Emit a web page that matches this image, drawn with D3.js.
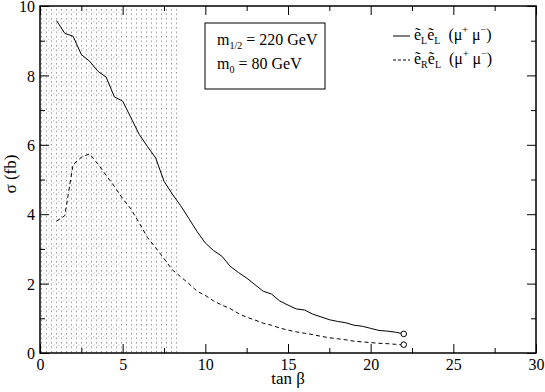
<!DOCTYPE html>
<html>
<head>
<meta charset="utf-8">
<script src="https://cdnjs.cloudflare.com/ajax/libs/d3/7.8.5/d3.min.js"></script>
<style>
  body { margin: 0; background: #fff; }
</style>
</head>
<body>
<svg id="chart"></svg>
<script>
var width = 545, height = 392

// tan beta values (shared by both curves)
var tanBeta = [1, 1.5, 2, 2.5, 3, 3.5, 4, 4.5, 5, 5.5, 6, 6.5, 7, 7.5, 8, 8.5, 9, 9.5, 10,
  10.5, 11, 11.5, 12, 12.5, 13, 13.5, 14, 14.5, 15, 15.5, 16, 16.5, 17, 17.5, 18, 18.5,
  19, 19.5, 20, 20.5, 21, 21.5, 22]
// sigma (fb) for e~L e~L (mu+ mu-)
var sigmaLL = [9.58, 9.21, 9.13, 8.60, 8.41, 8.12, 7.95, 7.38, 7.26, 6.78, 6.30, 5.95, 5.62,
  4.95, 4.58, 4.25, 3.88, 3.50, 3.17, 2.95, 2.79, 2.50, 2.32, 2.16, 1.97, 1.78, 1.70, 1.50,
  1.38, 1.27, 1.24, 1.12, 1.04, 0.96, 0.91, 0.87, 0.80, 0.77, 0.71, 0.65, 0.63, 0.60, 0.55]
// sigma (fb) for e~R e~L (mu+ mu-)
var sigmaRL = [3.80, 3.96, 5.43, 5.64, 5.74, 5.45, 5.12, 4.80, 4.45, 4.15, 3.75, 3.33, 3.03,
  2.72, 2.40, 2.20, 2.00, 1.78, 1.66, 1.50, 1.38, 1.28, 1.14, 1.03, 0.95, 0.86, 0.80, 0.72,
  0.66, 0.61, 0.57, 0.53, 0.48, 0.44, 0.41, 0.38, 0.34, 0.32, 0.30, 0.28, 0.27, 0.25, 0.24]
// excluded regions on tan beta (dotted / extra hatched)
var excluded = [0, 8.5]
var excludedInner = [0, 5]

var xTicks = [0, 5, 10, 15, 20, 25, 30]
var yTicks = [0, 2, 4, 6, 8, 10]

var serif = 'Liberation Serif'
var margin = {left: 40, right: 9, top: 6, bottom: 39}
var svg = d3.select('#chart').attr('width', width).attr('height', height)

var x = d3.scaleLinear().domain([0, 30]).range([margin.left, width - margin.right])
var y = d3.scaleLinear().domain([0, 10]).range([height - margin.bottom, margin.top])

var defs = svg.append('defs')
// dotted columns
var pat = defs.append('pattern')
    .attr('id', 'dots')
    .attr('patternUnits', 'userSpaceOnUse')
    .attr('width', 5).attr('height', 4.5)
pat.append('rect').attr('x', 1).attr('y', 0).attr('width', 1).attr('height', 1.5).attr('fill', '#999')
// faint slashes
var pat2 = defs.append('pattern')
    .attr('id', 'slash')
    .attr('patternUnits', 'userSpaceOnUse')
    .attr('width', 5).attr('height', 9)
pat2.append('line').attr('x1', 3).attr('y1', 4).attr('x2', 4.5).attr('y2', 2.5)
    .attr('stroke', '#c4c4c4').attr('stroke-width', 0.8)

svg.append('rect')
    .attr('x', x(excluded[0]))
    .attr('y', y(10))
    .attr('width', x(excluded[1]) - x(excluded[0]))
    .attr('height', y(0) - y(10))
    .attr('fill', 'url(#dots)')
svg.append('rect')
    .attr('x', x(excludedInner[0]))
    .attr('y', y(10))
    .attr('width', x(excludedInner[1]) - x(excludedInner[0]))
    .attr('height', y(0) - y(10))
    .attr('fill', 'url(#slash)')

// axes, ticks inward on all four sides
var bottom = d3.axisBottom(x).tickValues(xTicks).tickSize(-9).tickPadding(6).tickFormat(d3.format('d'))
var bottomMinor = d3.axisBottom(x).tickValues(d3.range(2.5, 30, 5)).tickSize(-5).tickFormat('')
var left = d3.axisLeft(y).tickValues(yTicks).tickSize(-9).tickPadding(5).tickFormat(d3.format('d'))
var leftMinor = d3.axisLeft(y).tickValues(d3.range(1, 10, 2)).tickSize(-5).tickFormat('')

function drawAxis(axis, tr) {
  var g = svg.append('g').attr('transform', tr).call(axis)
  g.select('.domain').remove()
  g.selectAll('line').attr('stroke', '#000').attr('stroke-width', 1)
  g.selectAll('text').style('font-family', serif).style('font-size', '16px').attr('fill', '#000')
  return g
}
drawAxis(bottom, 'translate(0,' + y(0) + ')')
drawAxis(bottomMinor, 'translate(0,' + y(0) + ')')
drawAxis(left, 'translate(' + x(0) + ',0)').selectAll('text').attr('dy', '0.36em')
drawAxis(leftMinor, 'translate(' + x(0) + ',0)')
drawAxis(d3.axisTop(x).tickValues(xTicks).tickSize(-9).tickFormat(''), 'translate(0,' + y(10) + ')')
drawAxis(d3.axisTop(x).tickValues(d3.range(2.5, 30, 5)).tickSize(-5).tickFormat(''), 'translate(0,' + y(10) + ')')
drawAxis(d3.axisRight(y).tickValues(yTicks).tickSize(-9).tickFormat(''), 'translate(' + x(30) + ',0)')
drawAxis(d3.axisRight(y).tickValues(d3.range(1, 10, 2)).tickSize(-5).tickFormat(''), 'translate(' + x(30) + ',0)')

svg.append('rect')
    .attr('x', x(0)).attr('y', y(10))
    .attr('width', x(30) - x(0)).attr('height', y(0) - y(10))
    .attr('fill', 'none').attr('stroke', '#000').attr('stroke-width', 1.5)

// curves
var line = d3.line().x((d) => x(d[0])).y((d) => y(d[1]))
var series = [
  {vals: sigmaLL, dash: null},
  {vals: sigmaRL, dash: '4,3'}
]
series.forEach(function (s) {
  var pts = tanBeta.map((t, i) => [t, s.vals[i]])
  svg.append('path')
      .datum(pts)
      .attr('d', line)
      .attr('fill', 'none')
      .attr('stroke', '#000')
      .attr('stroke-width', 1)
      .attr('stroke-dasharray', s.dash)
  var last = pts[pts.length - 1]
  svg.append('circle')
      .attr('cx', x(last[0])).attr('cy', y(last[1])).attr('r', 2.8)
      .attr('fill', '#fff').attr('stroke', '#000').attr('stroke-width', 1)
})

function label(sel, size) {
  return sel.style('font-family', serif).style('font-size', size + 'px').attr('fill', '#000')
}

// axis titles
label(svg.append('text'), 17)
    .attr('x', x(15)).attr('y', 384)
    .attr('text-anchor', 'middle')
    .text('tan β')
label(svg.append('text'), 17)
    .attr('transform', 'translate(16,' + 174 + ') rotate(-90)')
    .attr('text-anchor', 'middle')
    .text('σ  (fb)')

// parameter box
svg.append('rect')
    .attr('x', 205).attr('y', 23).attr('width', 120).attr('height', 66)
    .attr('fill', '#fff').attr('stroke', '#000').attr('stroke-width', 1)
var t1 = label(svg.append('text'), 16).attr('x', 217).attr('y', 45)
t1.append('tspan').text('m')
t1.append('tspan').style('font-size', '10px').attr('dy', 4).text('1/2')
t1.append('tspan').attr('dy', -4).text(' = 220 GeV')
var t2 = label(svg.append('text'), 16).attr('x', 217).attr('y', 69)
t2.append('tspan').text('m')
t2.append('tspan').style('font-size', '10px').attr('dy', 4).text('0')
t2.append('tspan').attr('dy', -4).text(' = 80 GeV')

// legend
var legend = [
  {sub1: 'L', sub2: 'L', dash: null},
  {sub1: 'R', sub2: 'L', dash: '3,2'}
]
legend.forEach(function (d, i) {
  var ly = 36 + i * 24
  svg.append('line')
      .attr('x1', 393).attr('x2', 410).attr('y1', ly).attr('y2', ly)
      .attr('stroke', '#000').attr('stroke-width', 1).attr('stroke-dasharray', d.dash)
  var t = label(svg.append('text'), 16).attr('x', 414).attr('y', ly + 4)
  t.append('tspan').text('e\u0303')
  t.append('tspan').style('font-size', '10px').attr('dy', 4).text(d.sub1)
  t.append('tspan').attr('dy', -4).text('e\u0303')
  t.append('tspan').style('font-size', '10px').attr('dy', 4).text(d.sub2)
  t.append('tspan').attr('dy', -4).text('\u00a0 (μ')
  t.append('tspan').style('font-size', '10px').attr('dy', -7).text('+')
  t.append('tspan').attr('dy', 7).text(' μ')
  t.append('tspan').style('font-size', '10px').attr('dy', -7).text('−')
  t.append('tspan').attr('dy', 7).text(')')
})
</script>
</body>
</html>
